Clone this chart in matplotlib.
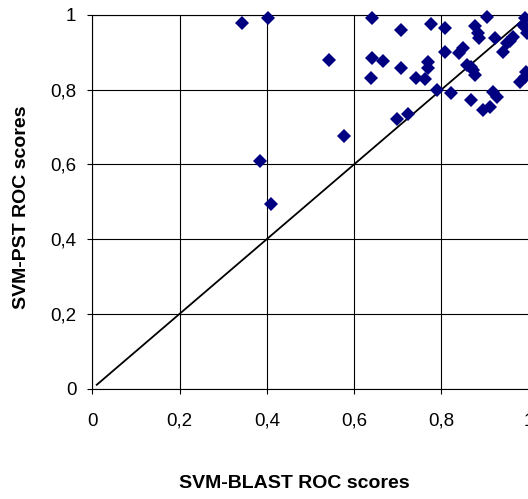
import numpy as np
import matplotlib
matplotlib.use('Agg')
import matplotlib.pyplot as plt

# ROC scores (x = SVM-BLAST, y = SVM-PST)
blast = [0.344, 0.403, 0.384, 0.409, 0.542, 0.578, 0.642, 0.642, 0.666, 0.638,
         0.707, 0.707, 0.776, 0.808, 0.877, 0.904, 0.885, 0.886, 0.923, 0.965,
         0.958, 0.988, 0.992, 0.992, 0.997, 0.770, 0.770, 0.763, 0.742, 0.808,
         0.841, 0.849, 0.858, 0.873, 0.877, 0.942, 0.950, 0.789, 0.822, 0.867,
         0.919, 0.927, 0.895, 0.912, 0.724, 0.698, 0.981, 0.992, 0.994, 0.867]
pst = [0.979, 0.991, 0.610, 0.493, 0.879, 0.676, 0.991, 0.884, 0.878, 0.831,
       0.959, 0.857, 0.975, 0.964, 0.971, 0.995, 0.951, 0.938, 0.938, 0.942,
       0.930, 0.973, 0.991, 0.969, 0.951, 0.875, 0.857, 0.828, 0.830, 0.900,
       0.897, 0.911, 0.866, 0.853, 0.839, 0.902, 0.924, 0.799, 0.792, 0.772,
       0.795, 0.781, 0.746, 0.754, 0.735, 0.721, 0.821, 0.835, 0.848, 0.862]
ticks = [0, 0.2, 0.4, 0.6, 0.8, 1]
tick_labels = ['0', '0,2', '0,4', '0,6', '0,8', '1']
diag = [0.01, 1]

plt.rcParams['font.family'] = ['Liberation Sans', 'DejaVu Sans']

fig = plt.figure(figsize=(5.28, 4.99), dpi=100)
ax = fig.add_axes([0.175, 0.2214, 0.826, 0.7486])

ax.set_xlim(0, 1)
ax.set_ylim(0, 1)
ax.set_xticks(ticks)
ax.set_yticks(ticks)
ax.set_xticklabels(tick_labels, fontsize=13.5)
ax.set_yticklabels(tick_labels, fontsize=13.5)
ax.tick_params(direction='out', length=3.6, width=0.8, color='black')
ax.tick_params(axis='x', pad=14)
ax.tick_params(axis='y', pad=8)
ax.grid(True, color='black', linewidth=0.8)
ax.set_axisbelow(True)
for s in ax.spines.values():
    s.set_color('black')
    s.set_linewidth(0.8)

ax.plot(diag, diag, color='black', linewidth=1.3, zorder=3)
ax.plot(blast, pst, 'D', color='#000080', markersize=7.4, markeredgewidth=0,
        clip_on=False, zorder=4)

fig.text(294 / 528, 1 - 484 / 499, 'SVM-BLAST ROC scores', fontsize=14,
         fontweight='bold', ha='center', va='center')
fig.text(22 / 528, 1 - 207 / 499, 'SVM-PST ROC scores', fontsize=14,
         fontweight='bold', ha='center', va='center', rotation=90)

plt.savefig('out.png', dpi=100)
